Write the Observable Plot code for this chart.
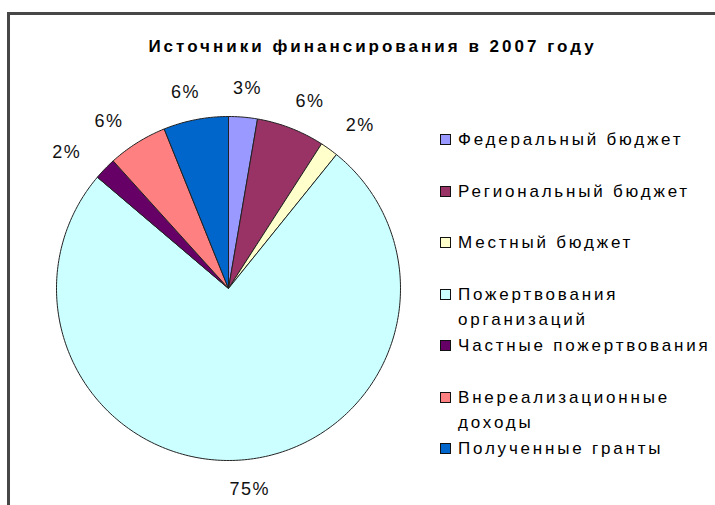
<!DOCTYPE html>
<html>
<head>
<meta charset="utf-8">
<script src="https://cdn.jsdelivr.net/npm/d3@7"></script>
<script src="https://cdn.jsdelivr.net/npm/@observablehq/plot@0.6"></script>
<style>
  body { margin: 0; background: #fff; }
  #wrap { position: relative; width: 715px; height: 505px; overflow: hidden; background: #fff;
          font-family: Arial, "Liberation Sans", sans-serif; color: #000; }
  #frame { position: absolute; left: 7px; top: 12px; right: -20px; bottom: -20px;
           border-top: 3px solid #474747; border-left: 3px solid #474747; }
  #chart { position: absolute; left: 0; top: 0; }
  #title { position: absolute; top: 37px; left: 130px; width: 485px; text-align: center;
           font-weight: bold; font-size: 17px; letter-spacing: 3px; white-space: nowrap; }
  #legend { position: absolute; left: 440px; top: 127px; width: 275px; }
  .item { position: relative; min-height: 51.5px; padding-left: 18px; font-size: 17px;
          line-height: 25px; letter-spacing: 2.8px; width: 258px; }
  .sw { position: absolute; left: 0; top: 7px; width: 9px; height: 9px; border: 1px solid #111; }
</style>
</head>
<body>
<div id="wrap">
  <div id="chart"></div>
  <div id="frame"></div>
  <div id="title">Источники финансирования в 2007 году</div>
  <div id="legend"></div>
</div>
<script>
// Data
const categories = ["Федеральный бюджет", "Региональный бюджет", "Местный бюджет",
  "Пожертвования организаций", "Частные пожертвования", "Внереализационные доходы", "Полученные гранты"];
const shares = [2.7, 6.4, 1.7, 75.4, 2.1, 5.6, 6.1];
const colors = ["#9999FF", "#993366", "#FFFFCC", "#CCFFFF", "#660066", "#FF8080", "#0066CC"];

const data = categories.map((c, i) => ({name: c, value: shares[i]}));
const arcs = d3.pie().sort(null).value(d => d.value)(data);

// slice polygons in unit-circle coordinates
const pts = [];
arcs.forEach(a => {
  const n = Math.max(2, Math.ceil((a.endAngle - a.startAngle) / (Math.PI / 180)));
  pts.push({name: a.data.name, x: 0, y: 0});
  for (let k = 0; k <= n; k++) {
    const t = a.startAngle + (a.endAngle - a.startAngle) * k / n;
    pts.push({name: a.data.name, x: Math.sin(t), y: Math.cos(t)});
  }
  pts.push({name: a.data.name, x: 0, y: 0});
});

const labels = arcs.map(a => {
  const m = (a.startAngle + a.endAngle) / 2;
  return {x: 1.17 * Math.sin(m), y: 1.17 * Math.cos(m), dx: 24 * Math.sin(m),
          dy: 8 * Math.max(0, -Math.sin(m)) * Math.max(0, Math.cos(m)),
          text: Math.round(a.data.value) + "%"};
});

const plot = Plot.plot({
  width: 715, height: 505,
  margin: 0,
  x: {domain: [-1, 1], range: [56, 400], axis: null},
  y: {domain: [-1, 1], range: [460, 116], axis: null},
  color: {domain: categories, range: colors},
  style: {background: "transparent", overflow: "visible"},
  marks: [
    Plot.line(pts, {x: "x", y: "y", z: "name", fill: "name", stroke: "#222", strokeWidth: 1, curve: "linear"}),
    Plot.text(labels, {x: "x", y: "y", text: "text", fontSize: 18,
      fontFamily: "Arial, 'Liberation Sans', sans-serif", fill: "#111"})
  ]
});
document.getElementById("chart").appendChild(plot);
// nudge labels away from the pie, by side
plot.querySelectorAll("text").forEach((t, i) => {
  if (labels[i]) { t.setAttribute("dx", labels[i].dx); t.setAttribute("dy", labels[i].dy); }
  t.style.letterSpacing = "1.5px";
});

// legend
const leg = document.getElementById("legend");
categories.forEach((c, i) => {
  const it = document.createElement("div");
  it.className = "item";
  const sw = document.createElement("div");
  sw.className = "sw";
  sw.style.background = colors[i];
  it.appendChild(sw);
  it.appendChild(document.createTextNode(c));
  leg.appendChild(it);
});
</script>
</body>
</html>
